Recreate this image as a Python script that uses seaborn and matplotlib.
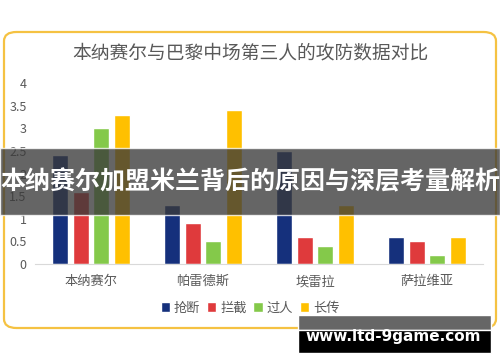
import pandas as pd
import seaborn as sns
import matplotlib.pyplot as plt
from matplotlib.patches import FancyBboxPatch, Rectangle

# data
players = ["本纳赛尔", "帕雷德斯", "埃雷拉", "萨拉维亚"]
metrics = ["抢断", "拦截", "过人", "长传"]
steals = [2.4, 1.3, 2.5, 0.6]
intercepts = [1.6, 0.9, 0.6, 0.5]
dribbles = [3.0, 0.5, 0.4, 0.2]
long_passes = [3.3, 3.4, 1.3, 0.6]
y_ticks = [0, 0.5, 1, 1.5, 2, 2.5, 3, 3.5, 4]

rows = []
for name, vals in zip(metrics, [steals, intercepts, dribbles, long_passes]):
    for p, v in zip(players, vals):
        rows.append({"player": p, "metric": name, "value": v})
df = pd.DataFrame(rows)

sns.set_style("white")
plt.rcParams["font.family"] = ["Noto Sans CJK SC", "DejaVu Sans"]

colors = ["#15307c", "#df3a3c", "#84c94a", "#ffc000"]
gray = "#595959"

fig = plt.figure(figsize=(5, 3.62), dpi=100)
ax = fig.add_axes([0.07, 0.2707, 0.896, 0.5])

sns.barplot(
    data=df, x="player", y="value", hue="metric",
    palette=colors, saturation=1, width=0.74, gap=0.22, ax=ax, legend=True,
)

ax.set_ylim(0, 4)
ax.set_yticks(y_ticks)
ax.set_yticklabels([f"{t:g}" for t in y_ticks])
ax.set_xlabel("")
ax.set_ylabel("")
ax.tick_params(axis="y", colors=gray, labelsize=9, length=0, pad=6)
ax.tick_params(axis="x", colors=gray, labelsize=9.5, length=0, pad=8)
for s in ["top", "right", "left"]:
    ax.spines[s].set_visible(False)
ax.spines["bottom"].set_color("#d9d9d9")
ax.set_facecolor("none")

ax.legend(
    loc="center", ncol=4, frameon=False, fontsize=9.5,
    handlelength=0.7, handleheight=0.7, handletextpad=0.3,
    columnspacing=0.5, labelcolor=gray,
)
leg = ax.get_legend()
leg.set_bbox_to_anchor((0.5, 1 - 308 / 362), transform=fig.transFigure)

# rounded orange frame
fig.patches.append(FancyBboxPatch(
    (4 / 500, 1 - 328 / 362), 492 / 500, 296 / 362,
    boxstyle="round,pad=0,rounding_size=0.025", transform=fig.transFigure,
    facecolor="none", edgecolor="#f5c242", linewidth=1.6, zorder=0,
))

fig.text(0.5, 1 - 53 / 362, "本纳赛尔与巴黎中场第三人的攻防数据对比",
         ha="center", va="center", fontsize=13.5, color=gray)

# dark banner across the middle
fig.patches.append(Rectangle((0, 1 - 215 / 362), 1, 67 / 362,
                             transform=fig.transFigure, facecolor="#3a3a3a",
                             alpha=0.78, zorder=5))
fig.text(0.5, 1 - 182 / 362, "本纳赛尔加盟米兰背后的原因与深层考量解析",
         ha="center", va="center", fontsize=18, fontweight="bold",
         color="white", zorder=6)

# watermark box
fig.patches.append(Rectangle((298 / 500, 1 - 330 / 362), 193 / 500, 15 / 362,
                             transform=fig.transFigure, facecolor="#666666", zorder=5))
fig.patches.append(Rectangle((298 / 500, 1 - 353 / 362), 193 / 500, 23 / 362,
                             transform=fig.transFigure, facecolor="black", zorder=5))
fig.text(393 / 500, 1 - 336 / 362, "www.ltd-9game.com", ha="center", va="center",
         fontsize=11, fontweight="bold", color="white", family="DejaVu Sans", zorder=6)

fig.savefig("out.png", dpi=100)
